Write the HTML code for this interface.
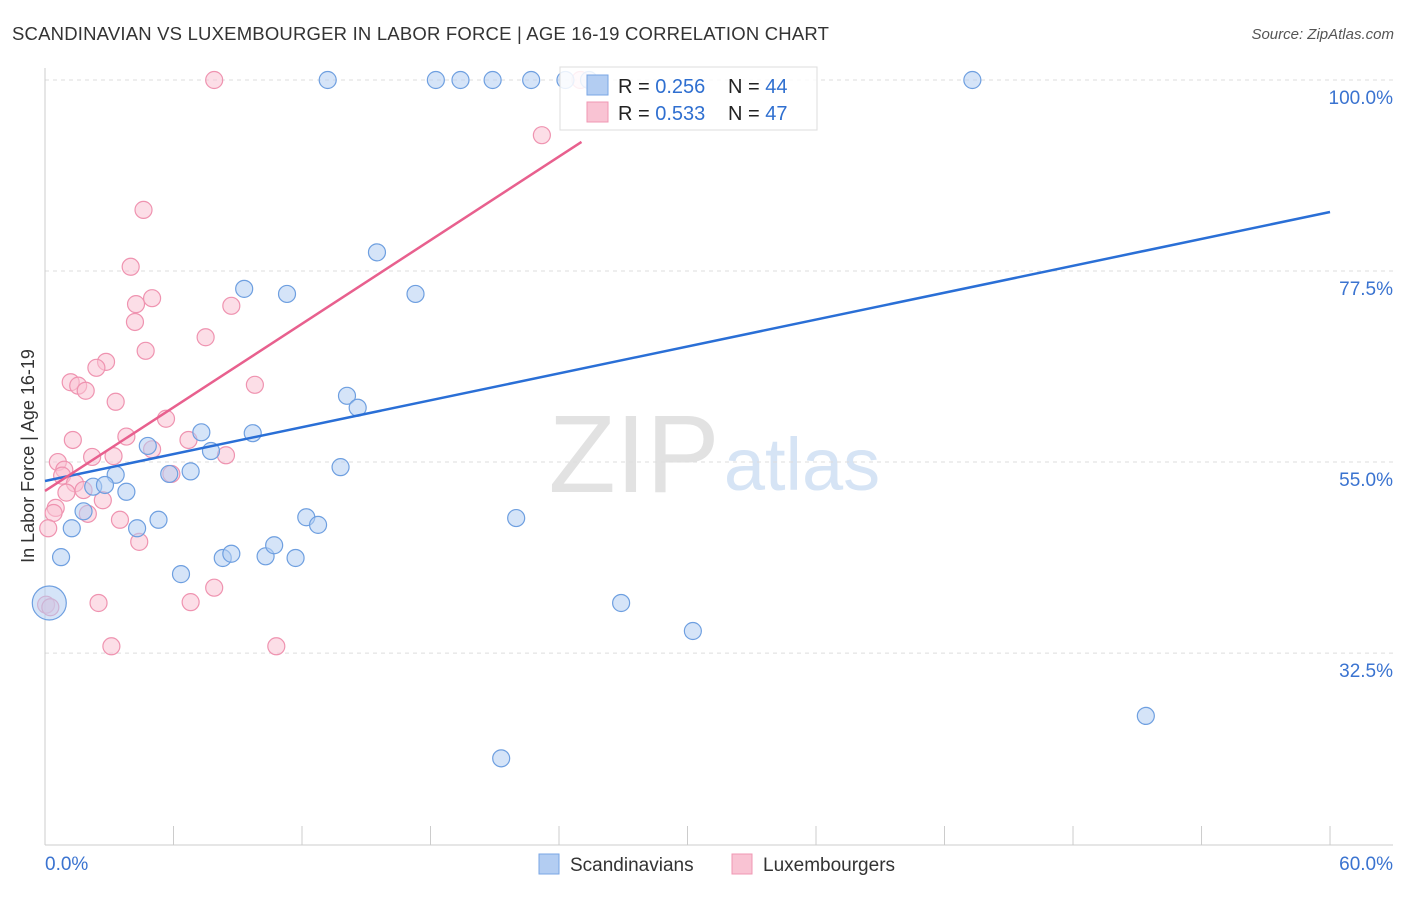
<!DOCTYPE html>
<html><head><meta charset="utf-8">
<style>
body{margin:0;background:#fff;font-family:"Liberation Sans",sans-serif;}
svg text{font-family:"Liberation Sans",sans-serif;}
</style></head>
<body>
<svg id="chart" width="1406" height="892" xmlns="http://www.w3.org/2000/svg">
<text x="12" y="40" font-size="18.5" letter-spacing="0.2" fill="#333">SCANDINAVIAN VS LUXEMBOURGER IN LABOR FORCE | AGE 16-19 CORRELATION CHART</text>
<text x="1394" y="39" font-size="15" fill="#555" text-anchor="end" font-style="italic">Source: ZipAtlas.com</text>
<text transform="translate(34,456) rotate(-90)" font-size="18" fill="#333" text-anchor="middle">In Labor Force | Age 16-19</text>
<g>
<text x="634" y="492" font-size="110" fill="#e2e2e2" text-anchor="middle" font-family="Liberation Serif">ZIP</text>
<text x="802" y="490" font-size="74" fill="#d6e4f5" text-anchor="middle">atlas</text>
</g>
<g id="grid"></g><g id="axes"></g><g id="marks"></g><g id="lines"></g>
<g>
<rect x="560" y="67" width="257" height="63" fill="#fff" fill-opacity="0.85" stroke="#ddd"/>
<rect x="587" y="75" width="21" height="20" fill="#b3cdf2" stroke="#7aa6e4"/>
<rect x="587" y="102" width="21" height="20" fill="#f9c3d3" stroke="#f097b3"/>
<text x="618" y="93" font-size="20" fill="#222">R = <tspan fill="#2f6fd0">0.256</tspan></text>
<text x="728" y="93" font-size="20" fill="#222">N = <tspan fill="#2f6fd0">44</tspan></text>
<text x="618" y="120" font-size="20" fill="#222">R = <tspan fill="#2f6fd0">0.533</tspan></text>
<text x="728" y="120" font-size="20" fill="#222">N = <tspan fill="#2f6fd0">47</tspan></text>
</g>
<g>
<rect x="539" y="854" width="20" height="20" fill="#b3cdf2" stroke="#7aa6e4"/>
<text x="570" y="871" font-size="19" fill="#333">Scandinavians</text>
<rect x="732" y="854" width="20" height="20" fill="#f9c3d3" stroke="#f097b3"/>
<text x="763" y="871" font-size="19" fill="#333">Luxembourgers</text>
</g>
</svg>
<script>
const yTicks=[100,77.5,55,32.5];
const yTickLabels=["100.0%","77.5%","55.0%","32.5%"];
const xTickLabels=["0.0%","60.0%"];
const blueX=[13.2,18.25,19.4,20.9,22.7,24.3,43.3,15.5,9.3,11.3,17.3,14.1,14.6,7.3,9.7,4.8,7.75,5.8,6.8,3.3,2.25,2.8,3.8,13.8,1.8,12.2,12.75,5.3,4.3,1.25,22.0,0.75,8.3,8.7,10.3,10.7,11.7,6.35,0.2,26.9,30.25,51.4,21.3,25.4];
const blueY=[100,100,100,100,100,100,100,79.7,75.4,74.8,74.8,62.8,61.4,58.5,58.4,56.9,56.3,53.6,53.9,53.5,52.1,52.3,51.5,54.4,49.2,48.5,47.6,48.2,47.2,47.2,48.4,43.8,43.7,44.2,43.9,45.2,43.7,41.8,38.4,38.4,35.1,25.1,20.1,100];
const pinkX=[7.9,25.0,23.2,4.6,4.0,5.0,4.25,8.7,4.2,7.5,4.7,2.85,2.4,1.2,1.55,1.9,9.8,3.3,5.65,3.8,1.3,6.7,5.0,8.45,2.2,3.2,0.6,0.9,5.9,0.8,1.4,1.8,1.0,2.7,0.5,0.4,2.0,3.5,0.15,4.4,2.5,6.8,7.9,0.05,3.1,10.8,0.25];
const pinkY=[100,100,93.5,84.7,78.0,74.3,73.6,73.4,71.5,69.7,68.1,66.8,66.1,64.4,64.0,63.4,64.1,62.1,60.1,58.0,57.6,57.6,56.5,55.8,55.6,55.7,55.0,54.1,53.6,53.4,52.5,51.7,51.4,50.5,49.6,49.0,48.9,48.2,47.2,45.6,38.4,38.5,40.2,38.2,33.3,33.3,37.9];
const blueTrend=[[0,52.77],[60,84.45]];
const pinkTrend=[[0,51.6],[25.05,92.7]];
const NS="http://www.w3.org/2000/svg";
const sx=v=>45+v*21.417, sy=v=>80+(100-v)*8.49;
function mk(tag,attrs,parent){const e=document.createElementNS(NS,tag);for(const k in attrs)e.setAttribute(k,attrs[k]);document.getElementById(parent).appendChild(e);return e;}
yTicks.forEach((t,i)=>{
 const l=mk('line',{x1:45,x2:1393,y1:sy(t),y2:sy(t),stroke:'#ddd','stroke-dasharray':'4,4'},'grid');
 
 
 const tx=mk('text',{x:1393,y:sy(t)+24,'font-size':19,fill:'#3a73d0','text-anchor':'end'},'axes');
 tx.textContent=yTickLabels[i];
 
 
});
let a=mk('line',{x1:45,x2:45,y1:68,y2:845,stroke:'#ccc'},'axes');


a=mk('line',{x1:45,x2:1393,y1:845,y2:845,stroke:'#ccc'},'axes');


for(let i=0;i<=10;i++){
 const t=mk('line',{x1:sx(i*6),x2:sx(i*6),y1:826,y2:845,stroke:'#ccc'},'axes');
 
 
}
[[0,'start',45],[60,'end',1393]].forEach((d,i)=>{
 const tx=mk('text',{x:d[2],y:870,'font-size':19,fill:'#3a73d0','text-anchor':d[1]},'axes');
 tx.textContent=xTickLabels[i];
 
 
});
function pts(X,Y,fill,stroke,name){
 X.forEach((x,i)=>{
  const big=(name==='scandinavian-point'&&x===0.2&&Y[i]===38.4);
  const c=mk('circle',{cx:sx(x),cy:sy(Y[i]),r:big?17:8.5,fill:fill,'fill-opacity':0.55,stroke:stroke,'stroke-width':1.2},'marks');
  
  
 });
}
pts(pinkX,pinkY,'#f9c3d3','#ef93b0','luxembourger-point');
pts(blueX,blueY,'#b3cdf2','#6e9fe0','scandinavian-point');
let tl=mk('line',{x1:sx(blueTrend[0][0]),y1:sy(blueTrend[0][1]),x2:sx(blueTrend[1][0]),y2:sy(blueTrend[1][1]),stroke:'#2a6fd6','stroke-width':2.5},'lines');


tl=mk('line',{x1:sx(pinkTrend[0][0]),y1:sy(pinkTrend[0][1]),x2:sx(pinkTrend[1][0]),y2:sy(pinkTrend[1][1]),stroke:'#e8608e','stroke-width':2.5},'lines');


</script>
</body></html>
